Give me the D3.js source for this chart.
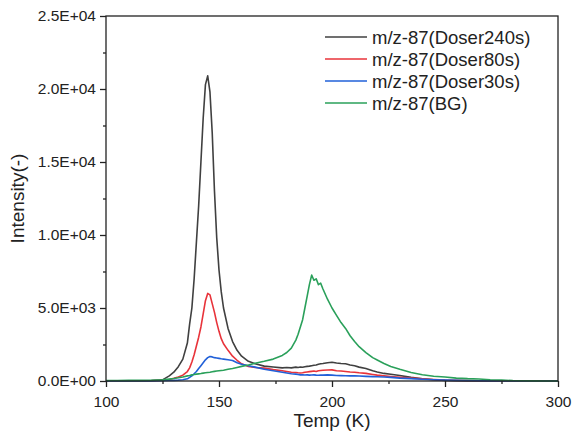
<!DOCTYPE html>
<html>
<head>
<meta charset="utf-8">
<script src="https://cdn.jsdelivr.net/npm/d3@7"></script>
<style>
  body { margin: 0; background: #fff; }
  #chart { width: 572px; height: 438px; }
  text { font-family: Arial, "Liberation Sans", sans-serif; fill: #222; }
</style>
</head>
<body>
<div id="chart"></div>
<script>
/* DATA */
var temps = [100,105,110,115,120,125,128,130,132,134,136,137,138,139,140,141,142,143,144,145,146,147,148,149,150,151,152,154,156,158,160,163,166,170,174,178,180,182,184,185,186,187,188,189,190,191,192,193,194,195,196,198,200,202,204,206,208,210,212,215,218,220,223,226,230,235,240,245,250,255,260,265,270,275,280,285,290,295,300];

var doser240 = [0,10,0,20,30,80,350,600,980,1500,2600,3900,5000,7000,9500,12000,15000,18000,20300,20900,19800,17000,13000,9800,7600,6100,5000,3600,2700,2100,1700,1350,1180,1020,960,900,920,900,950,930,960,940,980,1000,1020,1050,1080,1100,1150,1180,1200,1250,1280,1230,1200,1180,1100,1050,950,850,700,620,520,460,380,250,150,90,40,20,10,0,0,0,0,0,0,0,0];

var doser80 = [0,0,10,10,20,40,100,180,280,400,650,900,1300,1800,2400,3000,3700,4600,5500,6000,5900,5300,4700,4000,3400,2900,2550,2100,1700,1420,1180,1000,920,880,780,700,650,600,580,560,550,560,600,620,640,660,680,650,700,720,740,750,760,700,680,650,620,600,560,520,450,400,350,310,260,200,150,100,60,40,30,20,10,10,0,0,0,0,0];

var doser30 = [0,0,0,10,10,20,30,40,60,90,150,250,350,500,650,850,1050,1250,1450,1600,1680,1650,1600,1580,1550,1520,1500,1450,1400,1250,1150,1050,950,800,700,600,550,500,470,450,420,430,410,420,400,410,420,400,390,410,400,420,400,380,370,360,350,350,340,320,300,290,270,250,200,160,120,90,60,40,30,20,10,10,0,0,0,0,0];

var bg = [30,30,40,40,50,80,130,170,220,280,350,380,420,440,470,490,510,540,560,580,600,630,660,680,700,720,740,800,860,930,1000,1100,1220,1350,1500,1750,1950,2250,2800,3200,3700,4200,5000,5800,6600,7250,6900,7000,6600,6700,6300,5600,5000,4500,4000,3600,3100,2700,2350,1950,1600,1440,1200,1000,800,580,430,330,270,200,160,140,90,60,30,20,10,0,0];

var seriesNames = ["m/z-87(Doser240s)", "m/z-87(Doser80s)", "m/z-87(Doser30s)", "m/z-87(BG)"];
var seriesValues = [doser240, doser80, doser30, bg];
var seriesColors = ["#404040", "#e8333a", "#2160d8", "#2aa05a"];

var xTicks = [100, 150, 200, 250, 300];
var yTicks = [0, 5000, 10000, 15000, 20000, 25000];
var yTickLabels = ["0.0E+00", "5.0E+03", "1.0E+04", "1.5E+04", "2.0E+04", "2.5E+04"];

/* SVG CANVAS */
var width = 572, height = 438;
var margin = {left: 106, right: 14, top: 16, bottom: 57};

var svg = d3.select("#chart")
    .append("svg")
    .attr("width", width)
    .attr("height", height);

var x = d3.scaleLinear().domain([100, 300]).range([margin.left, width - margin.right]);
var y = d3.scaleLinear().domain([0, 25000]).range([height - margin.bottom, margin.top]);

/* LINES */
var line = d3.line()
    .x(function(d, i) { return x(temps[i]); })
    .y(function(d) { return y(d); });

seriesValues.forEach(function(vals, k) {
    svg.append("path")
        .datum(vals)
        .attr("fill", "none")
        .attr("stroke", seriesColors[k])
        .attr("stroke-width", 1.6)
        .attr("stroke-linejoin", "round")
        .attr("d", line);
});

/* FRAME */
svg.append("rect")
    .attr("x", x(100))
    .attr("y", y(25000))
    .attr("width", x(300) - x(100))
    .attr("height", y(0) - y(25000))
    .attr("fill", "none")
    .attr("stroke", "#222")
    .attr("stroke-width", 1.3);

/* AXES */
var gx = svg.append("g")
    .attr("transform", "translate(0," + y(0) + ")")
    .call(d3.axisBottom(x).tickValues(xTicks).tickSize(6).tickFormat(d3.format("d")));
gx.select(".domain").remove();
gx.selectAll("line").attr("stroke", "#222").attr("stroke-width", 1.3);
gx.selectAll("text").attr("dy", "1.1em").style("font-size", "15.5px").attr("fill", "#222");

var gxMinor = svg.append("g")
    .attr("transform", "translate(0," + y(0) + ")")
    .call(d3.axisBottom(x).tickValues([125, 175, 225, 275]).tickSize(3).tickFormat(""));
gxMinor.select(".domain").remove();
gxMinor.selectAll("line").attr("stroke", "#222").attr("stroke-width", 1.3);

var gy = svg.append("g")
    .attr("transform", "translate(" + x(100) + ",0)")
    .call(d3.axisLeft(y).tickValues(yTicks).tickSize(6)
        .tickFormat(function(d, i) { return yTickLabels[i]; }));
gy.select(".domain").remove();
gy.selectAll("line").attr("stroke", "#222").attr("stroke-width", 1.3);
gy.selectAll("text").attr("x", -10).style("font-size", "15.5px").attr("fill", "#222");

var gyMinor = svg.append("g")
    .attr("transform", "translate(" + x(100) + ",0)")
    .call(d3.axisLeft(y).tickValues([2500, 7500, 12500, 17500, 22500]).tickSize(3).tickFormat(""));
gyMinor.select(".domain").remove();
gyMinor.selectAll("line").attr("stroke", "#222").attr("stroke-width", 1.3);

/* AXIS TITLES */
svg.append("text")
    .attr("x", (x(100) + x(300)) / 2)
    .attr("y", 427)
    .attr("text-anchor", "middle")
    .style("font-size", "19px")
    .text("Temp (K)");

svg.append("text")
    .attr("transform", "translate(24," + ((y(0) + y(25000)) / 2) + ") rotate(-90)")
    .attr("text-anchor", "middle")
    .style("font-size", "19px")
    .text("Intensity(-)");

/* LEGEND */
var legend = svg.append("g");
seriesNames.forEach(function(name, i) {
    var ly = 37 + i * 22;
    legend.append("line")
        .attr("x1", 325).attr("x2", 367)
        .attr("y1", ly).attr("y2", ly)
        .attr("stroke", seriesColors[i])
        .attr("stroke-width", 1.6);
    legend.append("text")
        .attr("x", 372)
        .attr("y", ly)
        .attr("dy", "0.36em")
        .style("font-size", "18.5px")
        .text(name);
});
</script>
</body>
</html>
